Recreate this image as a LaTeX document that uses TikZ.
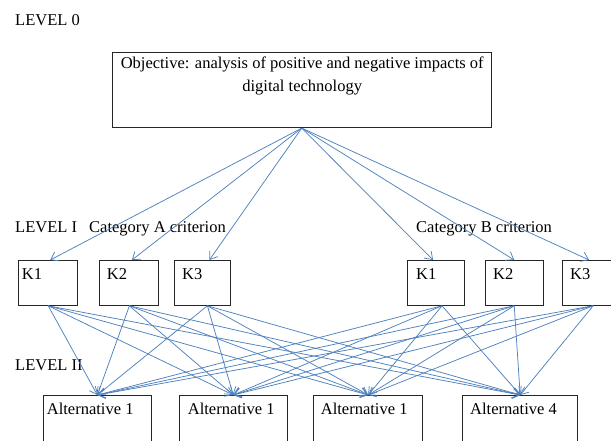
\documentclass[tikz,border=0pt]{standalone}
\usepackage{fontspec}
\setmainfont{Liberation Serif}
\usetikzlibrary{arrows.meta}
\definecolor{lineblue}{RGB}{79,129,189}
\begin{document}
\begin{tikzpicture}[x=1pt,y=-1pt,
  box/.style={draw=black!85, line width=0.8pt, inner sep=0pt, anchor=north west},
  txt/.style={anchor=base west, inner sep=0pt, font=\fontsize{16.5}{22}\selectfont},
  arr/.style={draw=lineblue, line width=0.75pt, -{Straight Barb[length=7pt,width=10pt]}}]
\useasboundingbox (0,0) rectangle (611,441);
\clip (0,0) rectangle (611,441);
% level labels
\node[txt] (l0) at (15,26) {LEVEL 0};
\node[txt] (l1) at (15,233) {LEVEL I};
\node[txt] (ca) at (89,233) {Category A criterion};
\node[txt] (cb) at (416,233) {Category B criterion};
\node[txt] (l2) at (15,370) {LEVEL II};
% objective
\node[box, minimum width=379.3pt, minimum height=75pt] (obj) at (111.7,52.3) {};
\node[txt, anchor=base] (objA) at (302.2,69) {Objective: analysis of positive and negative impacts of};
\node[txt, anchor=base] (objB) at (302.2,91.5) {digital technology};
% criteria boxes
\node[box, minimum width=59pt, minimum height=45pt] (k1) at (18.3,260) {};
\node[box, minimum width=58.4pt, minimum height=45pt] (k2) at (99.3,260) {};
\node[box, minimum width=56pt, minimum height=45pt] (k3) at (174,260) {};
\node[box, minimum width=56.7pt, minimum height=45pt] (k4) at (407.3,260) {};
\node[box, minimum width=57.7pt, minimum height=45pt] (k5) at (485,260) {};
\node[box, minimum width=58pt, minimum height=45pt] (k6) at (561.7,260) {};
\node[txt] (t1) at (21.7,279) {K1};
\node[txt] (t2) at (106.7,279) {K2};
\node[txt] (t3) at (182,279) {K3};
\node[txt] (t4) at (416,279) {K1};
\node[txt] (t5) at (493,279) {K2};
\node[txt] (t6) at (570,279) {K3};
% alternatives
\node[box, minimum width=107.4pt, minimum height=60pt] (a1) at (43.3,395) {};
\node[box, minimum width=107.7pt, minimum height=60pt] (a2) at (179,395) {};
\node[box, minimum width=109pt, minimum height=60pt] (a3) at (313.3,395) {};
\node[box, minimum width=115pt, minimum height=60pt] (a4) at (462.3,395) {};
\node[txt] (u1) at (46.7,414) {Alternative 1};
\node[txt] (u2) at (187.7,414) {Alternative 1};
\node[txt] (u3) at (320.7,414) {Alternative 1};
\node[txt] (u4) at (470,414) {Alternative 4};
% connectors
\foreach \k/\t/\b in {k1/2/0, k2/3/0.5, k3/7/5, k4/-3/6, k5/0/0, k6/-2/2}{
  \draw[arr] (obj.south) -- ([xshift=\t pt]\k.north);
  \foreach \a in {a1,a2,a3,a4}{
    \draw[arr] ([xshift=\b pt]\k.south) -- (\a.north);
  }
}
\end{tikzpicture}
\end{document}
